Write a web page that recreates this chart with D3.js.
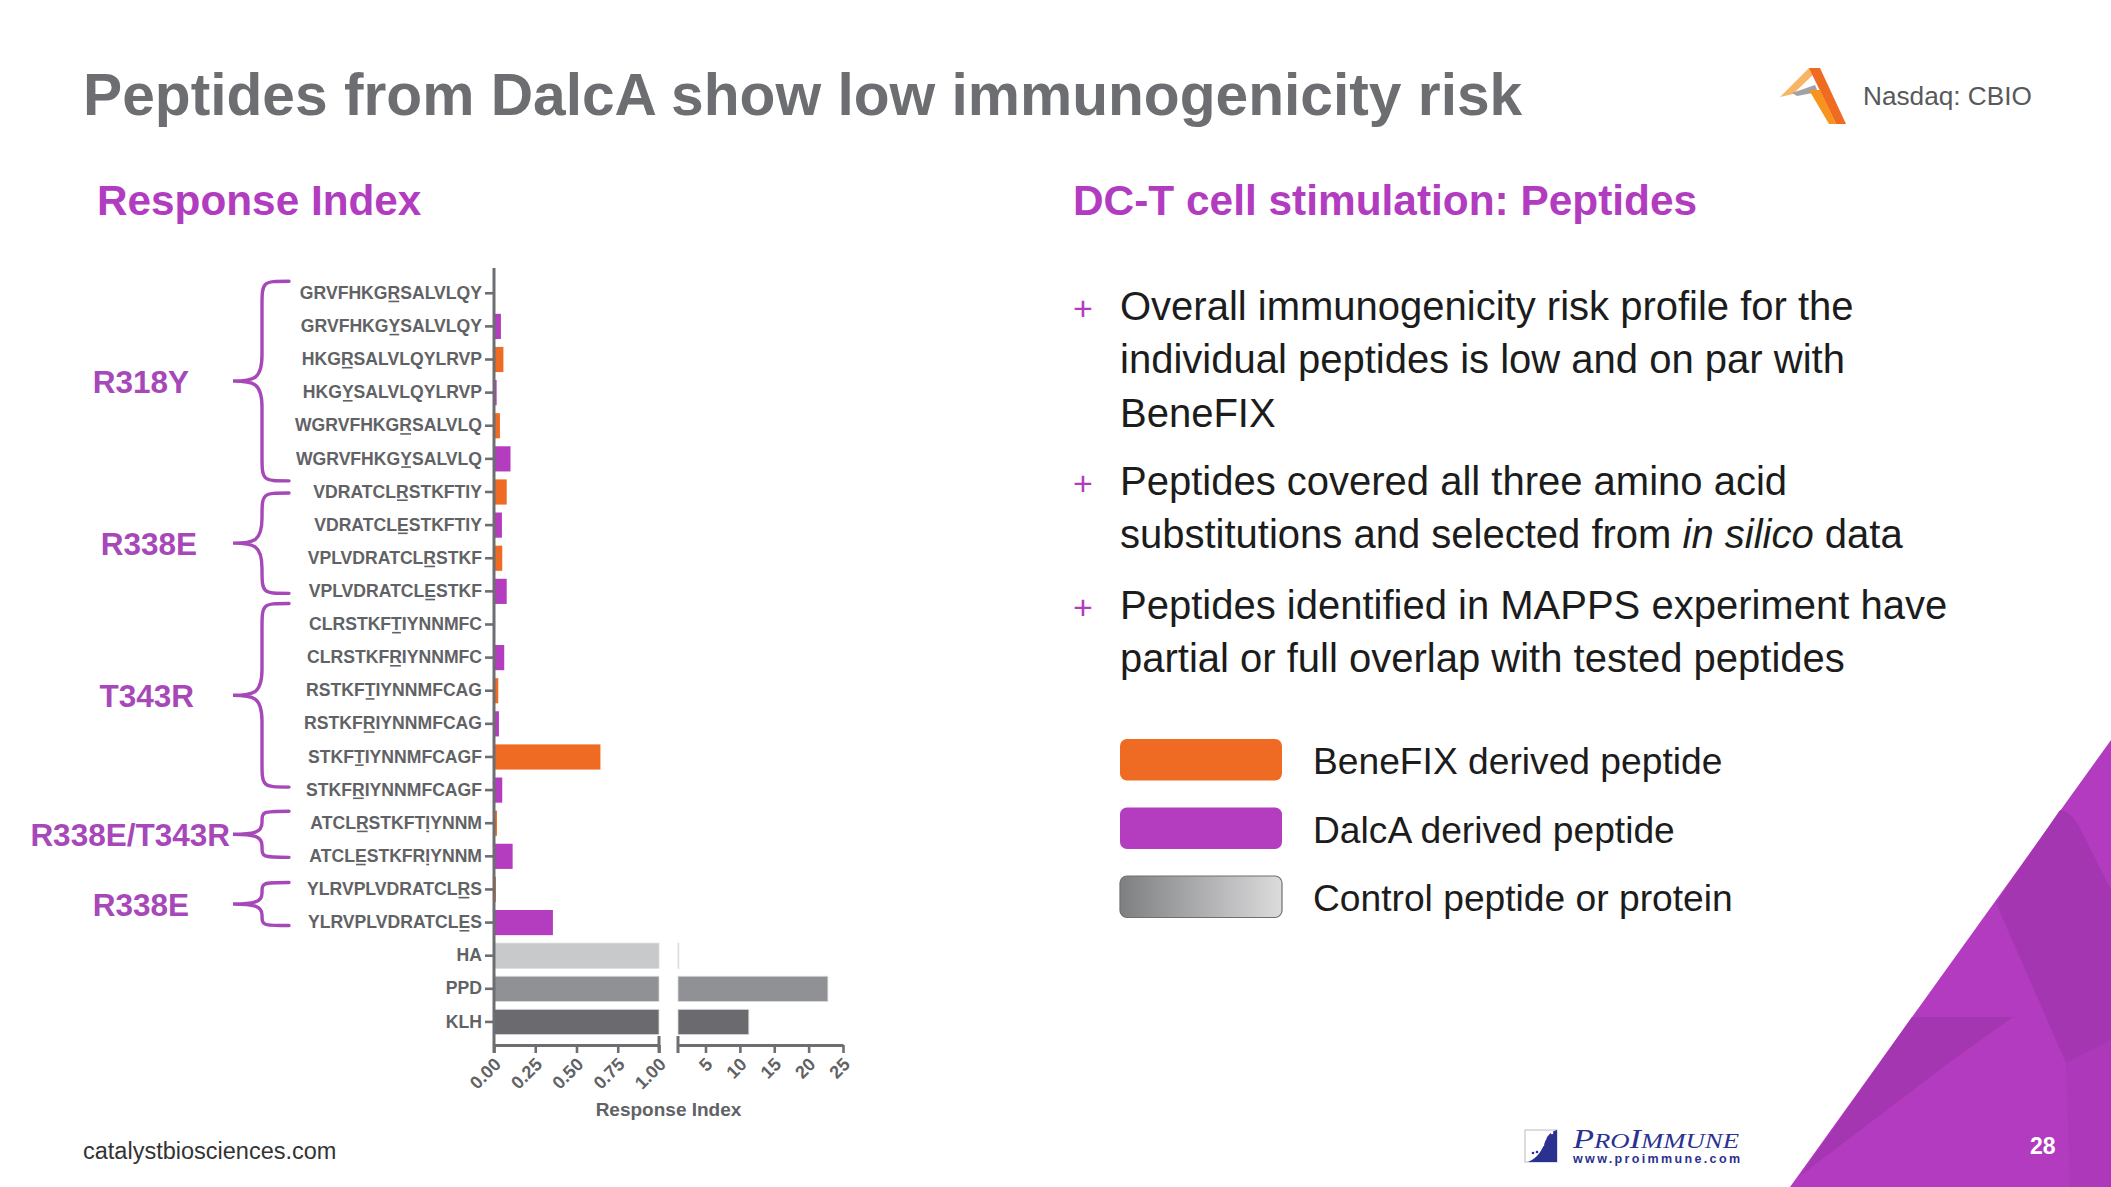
<!DOCTYPE html>
<html><head><meta charset="utf-8">
<script src="https://cdn.jsdelivr.net/npm/d3@7"></script>
<style>
html,body{margin:0;padding:0;background:#fff;}
svg{display:block;font-family:"Liberation Sans",Arial,Helvetica,sans-serif;}
</style></head><body>
<svg id="slide" width="2111" height="1187"></svg>
<script>
// ---------------- DATA ----------------
const peptideLabels = [
  "GRVFHKGRSALVLQY","GRVFHKGYSALVLQY","HKGRSALVLQYLRVP","HKGYSALVLQYLRVP",
  "WGRVFHKGRSALVLQ","WGRVFHKGYSALVLQ","VDRATCLRSTKFTIY","VDRATCLESTKFTIY",
  "VPLVDRATCLRSTKF","VPLVDRATCLESTKF","CLRSTKFTIYNNMFC","CLRSTKFRIYNNMFC",
  "RSTKFTIYNNMFCAG","RSTKFRIYNNMFCAG","STKFTIYNNMFCAGF","STKFRIYNNMFCAGF",
  "ATCLRSTKFTIYNNM","ATCLESTKFRIYNNM","YLRVPLVDRATCLRS","YLRVPLVDRATCLES"
];
const underlinedPositions = [
  [7],[7],[3],[3],[8],[8],[7],[7],[10],[10],[7],[7],[5],[5],[4],[4],[4,10],[4,10],[13],[13]
];
const peptideSource = [
  "BeneFIX","DalcA","BeneFIX","DalcA","BeneFIX","DalcA","BeneFIX","DalcA","BeneFIX","DalcA",
  "BeneFIX","DalcA","BeneFIX","DalcA","BeneFIX","DalcA","BeneFIX","DalcA","BeneFIX","DalcA"
];
const peptideValues = [
  0.000, 0.042, 0.057, 0.016, 0.036, 0.100, 0.077, 0.048, 0.050, 0.077,
  0.000, 0.062, 0.026, 0.030, 0.645, 0.050, 0.018, 0.113, 0.012, 0.357
];
const controlLabels = ["HA","PPD","KLH"];
const controlValues = [1.1, 22.8, 11.3];
const lowTicks = [0, 0.25, 0.5, 0.75, 1];
const highTicks = [5, 10, 15, 20, 25];
const groupNames = ["R318Y","R338E","T343R","R338E/T343R","R338E"];
const groupFirstRow = [0, 6, 10, 16, 18];
const groupLastRow = [5, 9, 15, 17, 19];
const legendLabels = ["BeneFIX derived peptide","DalcA derived peptide","Control peptide or protein"];
const bulletLines = [
  ["Overall immunogenicity risk profile for the","individual peptides is low and on par with","BeneFIX"],
  ["Peptides covered all three amino acid","substitutions and selected from *in silico* data"],
  ["Peptides identified in MAPPS experiment have","partial or full overlap with tested peptides"]
];

// ---------------- STYLE ----------------
const COL = {
  title:"#6d6e71", head:"#b23cbf", group:"#a748b9", orange:"#ef6a23", purple:"#b33dbe",
  axis:"#6d6e71", label:"#616265", ha:"#c8c9cb", ppd:"#8f9194", klh:"#6b6a6f", body:"#1c1c1c"
};
const svg = d3.select("#slide");
svg.append("rect").attr("width",2111).attr("height",1187).attr("fill","#fff");

// ---------------- BACKGROUND TRIANGLE ----------------
const tri = svg.append("g");
tri.append("polygon").attr("points","1790,1187 2111,740 2111,1187").attr("fill","#b23bbf");
tri.append("path").attr("d","M2060,810 C2070,812 2076,820 2082,832 L2111,890 L2111,1040 L2066,1063 L1996,903 Z").attr("fill","#a536b1");
tri.append("path").attr("d","M1912,1017 L2013,1017 L1950,1062 L1800,1176 Z").attr("fill","#a536b1");
tri.append("path").attr("d","M2066,1063 L2111,1040 L2111,1187 L2070,1187 Z").attr("fill","#ad38ba");
svg.append("text").attr("x",2030).attr("y",1154).attr("font-size",23).attr("font-weight","bold")
  .attr("fill","#fff").text("28");

// ---------------- TITLE & HEADERS ----------------
svg.append("text").attr("x",83).attr("y",115).attr("font-size",58.7).attr("font-weight","bold")
  .attr("fill",COL.title).text("Peptides from DalcA show low immunogenicity risk");
svg.append("text").attr("x",97).attr("y",215).attr("font-size",42.3).attr("font-weight","bold")
  .attr("fill",COL.head).text("Response Index");
svg.append("text").attr("x",1073).attr("y",215).attr("font-size",42.4).attr("font-weight","bold")
  .attr("fill",COL.head).text("DC-T cell stimulation: Peptides");

// Catalyst logo + Nasdaq
const logo = svg.append("g");
logo.append("polygon").attr("points","1780,97 1809,68 1820,68 1793,94").attr("fill","#f8b565");
logo.append("polygon").attr("points","1792,93 1815,85 1818,92 1797,96").attr("fill","#a0a2a5");
logo.append("polygon").attr("points","1809,68 1820,68 1846,124 1836,124").attr("fill","#ef6b22");
logo.append("polygon").attr("points","1809,90 1820,90 1836,124 1829,124").attr("fill","#f7941d");
svg.append("text").attr("x",1863).attr("y",105).attr("font-size",26.2).attr("fill","#58595b").text("Nasdaq: CBIO");

// Footer
svg.append("text").attr("x",83).attr("y",1159).attr("font-size",23.5).attr("fill","#333").text("catalystbiosciences.com");
// ProImmune logo
const pi = svg.append("g");
pi.append("rect").attr("x",1525).attr("y",1130).attr("width",32).attr("height",32).attr("fill","#fff").attr("stroke","#b9bbc8").attr("stroke-width",1);
pi.append("path").attr("d","M1557,1130 L1557,1162 L1528,1162 C1538,1158 1542,1150 1545,1142 C1547,1136 1550,1132 1557,1130 Z").attr("fill","#2b3190");
[[1548,1134],[1552,1133],[1545,1139],[1543,1145],[1533,1153],[1537,1152]].forEach(p=>
  pi.append("circle").attr("cx",p[0]).attr("cy",p[1]).attr("r",1.3).attr("fill",p[0]>1540?"#fff":"#2b3190"));
const pt = pi.append("text").attr("x",1573).attr("y",1148).attr("font-family","'Liberation Serif','Times New Roman',serif")
  .attr("font-style","italic").attr("fill","#2b3190").attr("textLength",166).attr("lengthAdjust","spacingAndGlyphs");
pt.append("tspan").attr("font-size",27).text("P");
pt.append("tspan").attr("font-size",21).text("RO");
pt.append("tspan").attr("font-size",27).text("I");
pt.append("tspan").attr("font-size",21).text("MMUNE");
pi.append("text").attr("x",1573).attr("y",1163).attr("font-size",12.5).attr("font-weight","bold").attr("fill","#2b3190")
  .attr("textLength",167).attr("lengthAdjust","spacing").text("www.proimmune.com");

// ---------------- BULLETS ----------------
const bulletBase = [319.5, 494.5, 618.5];
const lineH = 53.8;
bulletLines.forEach((lines,bi)=>{
  svg.append("text").attr("x",1083).attr("y",bulletBase[bi]).attr("text-anchor","middle")
    .attr("font-size",34).attr("fill",COL.purple).text("+");
  lines.forEach((ln,li)=>{
    const t = svg.append("text").attr("x",1120).attr("y",bulletBase[bi]+li*lineH)
      .attr("font-size",40).attr("fill",COL.body);
    ln.split("*").forEach((seg,si)=>{
      if(seg.length) t.append("tspan").attr("font-style", si%2 ? "italic":"normal").text(seg);
    });
  });
});

// ---------------- LEGEND ----------------
const defs = svg.append("defs");
const grad = defs.append("linearGradient").attr("id","ctrlGrad").attr("x1","0%").attr("x2","100%");
grad.append("stop").attr("offset","0%").attr("stop-color","#7e7f81");
grad.append("stop").attr("offset","100%").attr("stop-color","#dcdcdd");
const legendFill = [COL.orange, COL.purple, "url(#ctrlGrad)"];
const legendTop = [739, 807.5, 876];
legendLabels.forEach((lab,i)=>{
  svg.append("rect").attr("x",1120).attr("y",legendTop[i]).attr("width",162).attr("height",41.5)
    .attr("rx",7).attr("fill",legendFill[i]).attr("stroke", i===2 ? "#6f7072" : "none").attr("stroke-width",1.2);
  svg.append("text").attr("x",1313).attr("y",legendTop[i]+35).attr("font-size",37.2).attr("fill",COL.body).text(lab);
});

// ---------------- CHART ----------------
const allLabels = peptideLabels.concat(controlLabels);
const y = d3.scaleBand().domain(allLabels).range([276.7, 1038.5]).paddingInner(0.24).paddingOuter(0.12);
const xLow = d3.scaleLinear().domain([0,1]).range([494, 659]);
const xHigh = d3.scaleLinear().domain([1,25]).range([678, 843]);
const axisY = 1045;
const chart = svg.append("g");

// peptide bars
chart.selectAll("rect.pep").data(peptideLabels).join("rect").attr("class","pep")
  .attr("x", xLow(0))
  .attr("y", d=>y(d))
  .attr("height", y.bandwidth())
  .attr("width", (d,i)=> Math.max(0, xLow(Math.min(peptideValues[i],1)) - xLow(0)))
  .attr("fill", (d,i)=> peptideSource[i]==="BeneFIX" ? COL.orange : COL.purple);

// control bars
const ctrlCol = [COL.ha, COL.ppd, COL.klh];
chart.selectAll("rect.ctrlL").data(controlLabels).join("rect").attr("class","ctrlL")
  .attr("x", xLow(0)).attr("y", d=>y(d)).attr("height", y.bandwidth())
  .attr("width", (d,i)=> xLow(Math.min(controlValues[i],1)) - xLow(0))
  .attr("fill",(d,i)=>ctrlCol[i]).attr("stroke","#d9d9da").attr("stroke-width",0.8);
chart.selectAll("rect.ctrlH").data(controlLabels).join("rect").attr("class","ctrlH")
  .attr("x", xHigh(1)).attr("y", d=>y(d)).attr("height", y.bandwidth())
  .attr("width", (d,i)=> Math.max(0.8, xHigh(controlValues[i]) - xHigh(1)))
  .attr("fill",(d,i)=>ctrlCol[i]).attr("stroke","#d9d9da").attr("stroke-width",0.8);

// y axis
const yAxisG = chart.append("g").attr("transform",`translate(${xLow(0)},0)`)
  .call(d3.axisLeft(y).tickSize(9).tickPadding(3));
yAxisG.select(".domain").remove();
yAxisG.selectAll(".tick line").attr("stroke",COL.axis).attr("stroke-width",2.6);
yAxisG.selectAll(".tick text").attr("font-size",17.6).attr("font-weight","bold")
  .attr("fill",COL.label).attr("font-family","'Liberation Sans',Arial,sans-serif");
// underline the substituted residues
yAxisG.selectAll(".tick").each(function(d){
  const idx = peptideLabels.indexOf(d);
  if(idx<0) return;
  const tNode = d3.select(this).select("text").node();
  underlinedPositions[idx].forEach(ci=>{
    const ext = tNode.getExtentOfChar(ci);
    d3.select(this).append("line")
      .attr("x1", ext.x+1).attr("x2", ext.x+ext.width-1)
      .attr("y1", 8.2).attr("y2", 8.2)
      .attr("stroke",COL.label).attr("stroke-width",1.6);
  });
});
chart.append("line").attr("x1",xLow(0)).attr("x2",xLow(0)).attr("y1",268).attr("y2",axisY+8)
  .attr("stroke",COL.axis).attr("stroke-width",3);

// x axes
function styleX(g){
  g.select(".domain").attr("stroke",COL.axis).attr("stroke-width",3);
  g.selectAll(".tick line").attr("stroke",COL.axis).attr("stroke-width",2.6);
  g.selectAll(".tick text").attr("font-size",18).attr("font-weight","bold").attr("fill",COL.label)
    .attr("font-family","'Liberation Sans',Arial,sans-serif")
    .attr("text-anchor","end").attr("x",0).attr("y",0).attr("dy","0.35em")
    .attr("transform","translate(3,16) rotate(-45)");
}
const gLow = chart.append("g").attr("transform",`translate(0,${axisY})`)
  .call(d3.axisBottom(xLow).tickValues(lowTicks).tickFormat(d3.format(".2f")).tickSize(8).tickSizeOuter(0));
styleX(gLow);
const gHigh = chart.append("g").attr("transform",`translate(0,${axisY})`)
  .call(d3.axisBottom(xHigh).tickValues(highTicks).tickFormat(d3.format("d")).tickSize(8).tickSizeOuter(0));
styleX(gHigh);
[xLow(1), xHigh(1)].forEach(xx=>{
  chart.append("line").attr("x1",xx).attr("x2",xx).attr("y1",axisY-9).attr("y2",axisY+8)
    .attr("stroke",COL.axis).attr("stroke-width",3);
});
chart.append("text").attr("x",(xLow(0)+xHigh(25))/2).attr("y",1116).attr("text-anchor","middle")
  .attr("font-size",19).attr("font-weight","bold").attr("fill",COL.label).text("Response Index");

// ---------------- GROUP BRACES ----------------
const tipX = 233, vX = 262, endX = 289;
// hand-drawn brace extents relative to the first/last row centres (layout only)
const braceTopAdj = [-12, 1, -21, -12, -7];
const braceBottomAdj = [22, 2, -3, 1, 3];
const labelEndX = [189, 197, 194, 230, 189];
function bracePath(top,bottom){
  const mid=(top+bottom)/2;
  const r=Math.min(26,(bottom-top)/4);
  return `M${endX},${top} C${vX},${top} ${vX},${top} ${vX},${top+r} L${vX},${mid-r} `+
         `C${vX},${mid-2} ${vX-8},${mid} ${tipX},${mid} C${vX-8},${mid} ${vX},${mid+2} ${vX},${mid+r} `+
         `L${vX},${bottom-r} C${vX},${bottom} ${vX},${bottom} ${endX},${bottom}`;
}
groupNames.forEach((name,gi)=>{
  const top = y(peptideLabels[groupFirstRow[gi]]) + y.bandwidth()/2 + braceTopAdj[gi];
  const bottom = y(peptideLabels[groupLastRow[gi]]) + y.bandwidth()/2 + braceBottomAdj[gi];
  svg.append("path").attr("d",bracePath(top,bottom)).attr("fill","none")
    .attr("stroke",COL.group).attr("stroke-width",3.4).attr("stroke-linecap","round");
  const mid=(top+bottom)/2;
  svg.append("text").attr("x",labelEndX[gi]).attr("y",mid+11.5).attr("font-size",31.5).attr("font-weight","bold")
    .attr("fill",COL.group).attr("text-anchor","end").text(name);
});
</script>
</body></html>
